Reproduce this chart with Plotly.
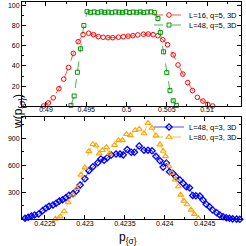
import plotly.graph_objects as go

# ---------------- data ----------------
# top panel (q=5, 3D)
red_x = [0.4897, 0.4903, 0.4909, 0.4916, 0.4922, 0.4928, 0.4934, 0.4940, 0.4946, 0.4953,
         0.4959, 0.4965, 0.4971, 0.4977, 0.4983, 0.4990, 0.4996, 0.5002, 0.5008, 0.5014,
         0.5021, 0.5027, 0.5033, 0.5039, 0.5045, 0.5051, 0.5058, 0.5064, 0.5070, 0.5076,
         0.5082, 0.5088, 0.5095, 0.5101, 0.5107]
red_y = [0.4, 3.5, 8.5, 17.5, 27, 38.5, 52.5, 64, 71, 72.4,
         71, 69, 68.4, 68, 68, 68.5, 69, 69.5, 70, 70.7,
         71.4, 71.6, 71, 70, 66, 61, 51, 41, 32, 23.5,
         15.6, 9, 5.3, 2, 0.4]

green_x = [0.4931, 0.4935, 0.4939, 0.4943, 0.4947, 0.4951, 0.49554, 0.49598, 0.49642, 0.49686,
           0.4973, 0.49774, 0.49818, 0.49862, 0.49906, 0.4995, 0.49994, 0.50038, 0.50082, 0.50126,
           0.5017, 0.50214, 0.50258, 0.50302, 0.50346, 0.5039, 0.5042, 0.5046, 0.5050, 0.5054,
           0.5058, 0.5062]
green_y = [1, 10.3, 33.8, 57, 80, 93.8, 93, 93.5, 92.8, 93.6,
           93, 93.4, 92.7, 93.5, 93.2, 93, 93.6, 92.9, 93.4, 93.1,
           93.5, 92.8, 93.3, 93.5, 92.8, 87, 73, 54, 33.4, 15.6,
           5.6, 1]

# bottom panel (q=3, 3D)
blue_x = [0.42221, 0.42225, 0.42229, 0.42233, 0.42237, 0.42242, 0.42247, 0.42251, 0.42255, 0.42260,
          0.42264, 0.42268, 0.42272, 0.42276, 0.42280, 0.42285, 0.42289, 0.42294, 0.42300, 0.42305,
          0.42310, 0.42316, 0.42320, 0.42324, 0.42328, 0.42333, 0.42339, 0.42344, 0.42348, 0.42353,
          0.42358, 0.42362, 0.42368, 0.42374, 0.42379, 0.42384, 0.42389, 0.42394, 0.42398, 0.42402,
          0.42406, 0.42410, 0.42414, 0.42419, 0.42423, 0.42427, 0.42431, 0.42435, 0.42439, 0.42444,
          0.42448, 0.42452, 0.42456, 0.42460, 0.42465, 0.42469, 0.42473, 0.42477, 0.42481, 0.42485,
          0.42490, 0.42494]
blue_y = [3, 11, 22, 37, 48, 59, 96, 122, 144, 159,
          178, 203, 218, 240, 267, 284, 314, 380, 451, 540,
          585, 629, 670, 656, 684, 714, 725, 725, 716, 775,
          745, 745, 815, 768, 768, 762, 700, 650, 580, 625,
          529, 511, 473, 437, 400, 362, 351, 265, 262, 258,
          214, 167, 140, 103, 73, 48, 29, 18, 11, 5,
          2, 0]

orange_x = [0.42263, 0.42269, 0.42274, 0.42279, 0.42285, 0.42290, 0.42295, 0.42300, 0.42305, 0.42310,
            0.42314, 0.42318, 0.42322, 0.42327, 0.42331, 0.42337, 0.42342, 0.42347, 0.42352, 0.42357,
            0.42363, 0.42368, 0.42374, 0.42379, 0.42384, 0.42389, 0.42394, 0.42398, 0.42401, 0.42405,
            0.42409, 0.42413, 0.42417, 0.42420, 0.42424, 0.42428, 0.42433, 0.42437, 0.42442]
orange_y = [5, 30, 88, 188, 274, 345, 494, 575, 755, 835,
            820, 730, 768, 800, 730, 825, 878, 878, 945, 933,
            990, 1005, 955, 1070, 1015, 930, 830, 760, 700, 590,
            515, 440, 365, 272, 205, 165, 105, 56, 12]

top_xticks = [0.49, 0.495, 0.5, 0.505, 0.51]
top_xlabels = ["0.49", "0.495", "0.5", "0.505", "0.51"]
top_yticks = [20, 40, 60, 80, 100]
bot_xticks = [0.4225, 0.423, 0.4235, 0.424, 0.4245]
bot_xlabels = ["0.4225", "0.423", "0.4235", "0.424", "0.4245"]
bot_yticks = [300, 600, 900]

names = ["L=16, q=5, 3D", "L=48, q=5, 3D", "L=48, q=3, 3D", "L=80, q=3, 3D"]

# ---------------- figure ----------------
W = H = 246
FONT = "Liberation Sans, Arial, sans-serif"
RED = "#ff0000"
GREEN = "#009600"
BLUE = "#0000ff"
ORANGE = "#ffa500"

fig = go.Figure()
fig.add_trace(go.Scatter(x=red_x, y=red_y, name=names[0], mode="lines+markers",
                         line=dict(color=RED, width=0.7, dash="dash"),
                         marker=dict(symbol="circle-open", size=4.6, color=RED, line=dict(width=1)),
                         xaxis="x", yaxis="y", legend="legend", cliponaxis=False))
fig.add_trace(go.Scatter(x=green_x, y=green_y, name=names[1], mode="lines+markers",
                         line=dict(color=GREEN, width=0.7, dash="dash"),
                         marker=dict(symbol="square-open", size=4, color=GREEN, line=dict(width=1)),
                         xaxis="x", yaxis="y", legend="legend2", cliponaxis=False))
fig.add_trace(go.Scatter(x=blue_x, y=blue_y, name=names[2], mode="lines+markers",
                         line=dict(color=BLUE, width=0.7),
                         marker=dict(symbol="diamond-open", size=4.8, color=BLUE, line=dict(width=1.3)),
                         xaxis="x2", yaxis="y2", legend="legend3", cliponaxis=False))
fig.add_trace(go.Scatter(x=orange_x, y=orange_y, name=names[3], mode="lines+markers",
                         line=dict(color=ORANGE, width=0.7, dash="dash"),
                         marker=dict(symbol="triangle-up-open", size=5.2, color=ORANGE, line=dict(width=1.1)),
                         xaxis="x2", yaxis="y2", legend="legend4", cliponaxis=False))

xdom = [22 / W, 241 / W]
axis_common = dict(showline=True, linecolor="black", linewidth=1, mirror="allticks",
                   ticks="inside", ticklen=4, tickwidth=1, tickcolor="black",
                   showgrid=False, zeroline=False, automargin=False,
                   tickfont=dict(family=FONT, size=7, color="black"))

fig.update_layout(
    width=W, height=H, margin=dict(l=0, r=0, t=0, b=0, autoexpand=False),
    paper_bgcolor="white", plot_bgcolor="white",
    font=dict(family=FONT, color="black"),
    xaxis=dict(domain=xdom, anchor="y", range=[0.48702, 0.51422],
               tickvals=top_xticks, ticktext=top_xlabels, ticklabelstandoff=-4,
               minor=dict(ticks="inside", ticklen=2, dtick=0.0025, tick0=0.49, tickcolor="black"),
               **axis_common),
    yaxis=dict(domain=[1 - 106.4 / H, 1 - 2 / H], anchor="x", range=[0, 103.3],
               tickvals=top_yticks,
               minor=dict(ticks="inside", ticklen=2, dtick=10, tick0=0, tickcolor="black"),
               **axis_common),
    xaxis2=dict(domain=xdom, anchor="y2", range=[0.422212, 0.424955],
                tickvals=bot_xticks, ticktext=bot_xlabels, ticklabelstandoff=-3,
                minor=dict(ticks="inside", ticklen=2, dtick=0.00025, tick0=0.4225, tickcolor="black"),
                **axis_common),
    yaxis2=dict(domain=[1 - 219.3 / H, 1 - 117 / H], anchor="x2", range=[0, 1137],
                tickvals=bot_yticks,
                minor=dict(ticks="inside", ticklen=2, dtick=150, tick0=0, tickcolor="black"),
                **axis_common),
    showlegend=True,
)

leg_common = dict(xanchor="right", yanchor="middle", bgcolor="rgba(0,0,0,0)",
                  borderwidth=0, font=dict(family=FONT, size=7.5, color="black"),
                  itemwidth=30, tracegroupgap=0)
lx = 243 / W
fig.update_layout(
    legend=dict(x=lx, y=1 - 15 / H, **leg_common),
    legend2=dict(x=lx, y=1 - 25 / H, **leg_common),
    legend3=dict(x=lx, y=1 - 127 / H, **leg_common),
    legend4=dict(x=lx, y=1 - 137 / H, **leg_common),
)

fig.add_annotation(text="w(p<sub>{σ}</sub>)", xref="paper", yref="paper",
                   x=9 / W, y=1 - 112 / H, textangle=-90, showarrow=False,
                   font=dict(family=FONT, size=12, color="black"))
fig.add_annotation(text="p<sub>{σ}</sub>", xref="paper", yref="paper",
                   x=128 / W, y=1 - 237.5 / H, yanchor="middle", showarrow=False,
                   font=dict(family=FONT, size=12, color="black"))

fig.write_html("out.html", config={"displayModeBar": False},
               post_script="document.body.style.margin='0';document.body.style.overflow='hidden';")
